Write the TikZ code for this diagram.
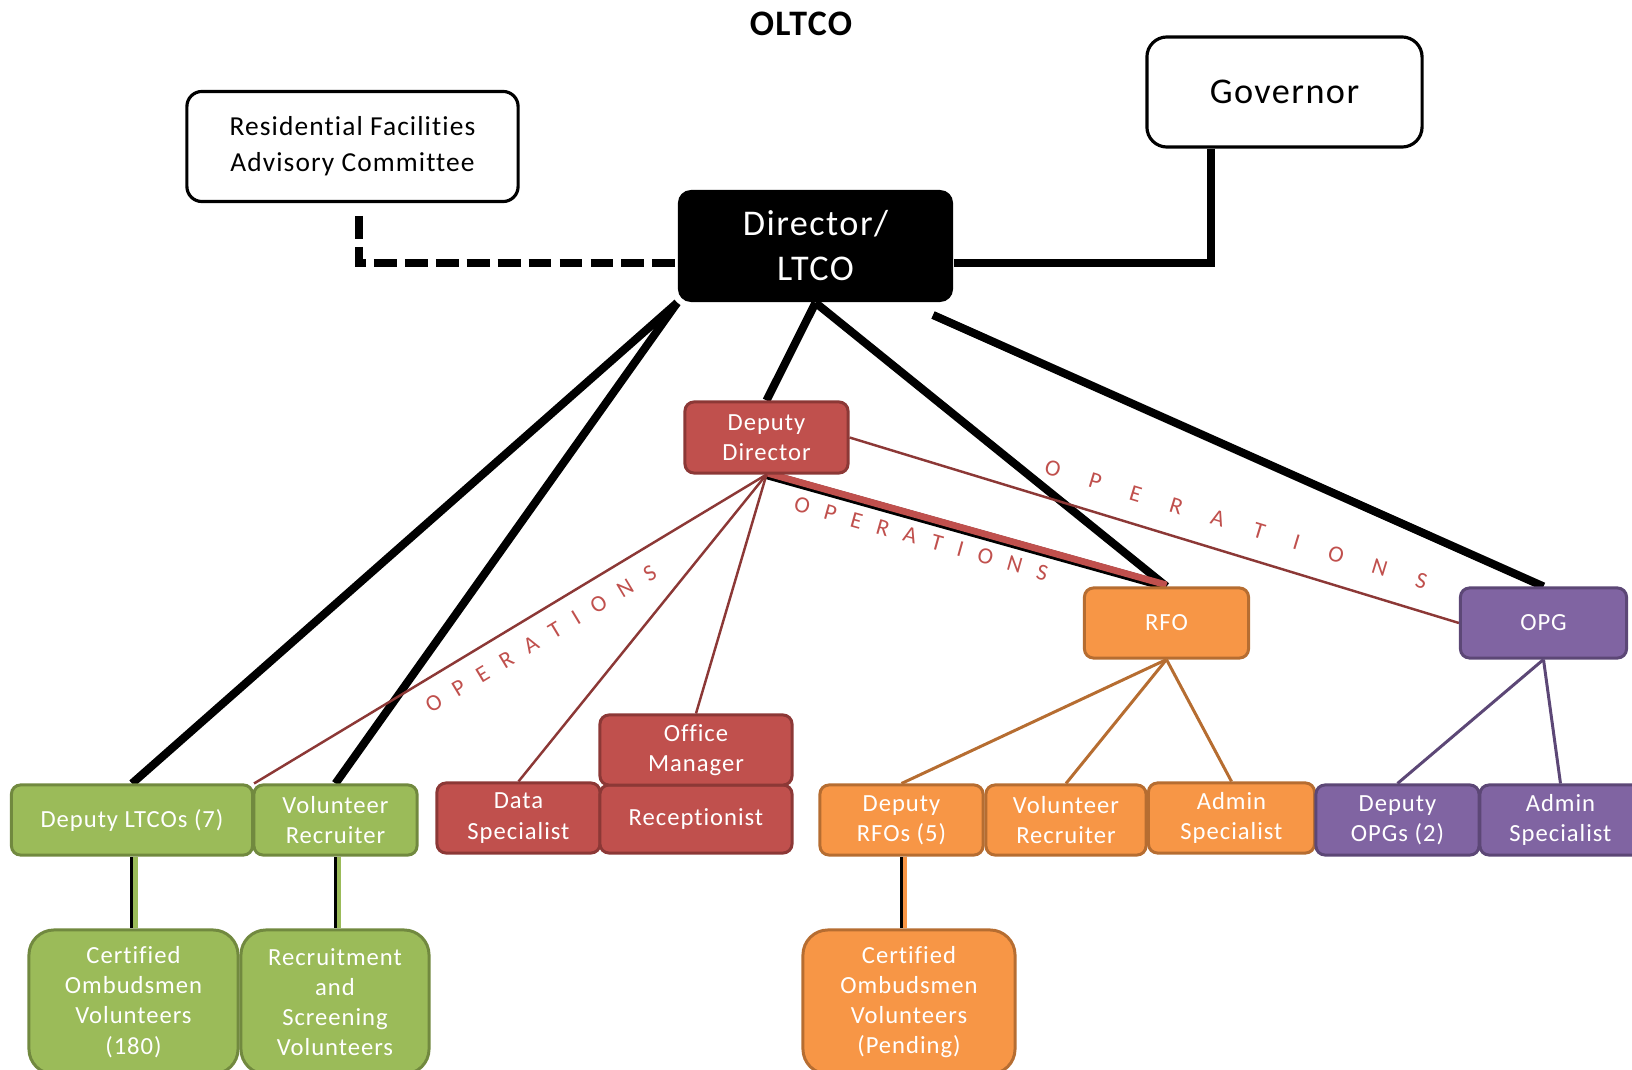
\documentclass[tikz,border=0pt]{standalone}
\usepackage{fontspec}
\setmainfont{Carlito}[LetterSpace=4, Ligatures={NoCommon}]
\usetikzlibrary{backgrounds,calc}
\definecolor{grnfill}{HTML}{9BBB59}
\definecolor{grnline}{HTML}{71893F}
\definecolor{redfill}{HTML}{C0504D}
\definecolor{redline}{HTML}{8C3836}
\definecolor{orgfill}{HTML}{F79646}
\definecolor{orgline}{HTML}{B66D31}
\definecolor{purfill}{HTML}{8064A2}
\definecolor{purline}{HTML}{5C4776}
\newcommand{\opsword}[1]{O\hspace{#1}P\hspace{#1}E\hspace{#1}R\hspace{#1}A\hspace{#1}T\hspace{#1}I\hspace{#1}O\hspace{#1}N\hspace{#1}S}
\tikzset{
  wh/.style 2 args={minimum width=#1, minimum height=#2},
  unit/.style={rectangle, rounded corners=0.09cm, line width=0.85pt, text=white, align=center, inner sep=0pt, font=\fontsize{7}{8.6}\selectfont},
  grnbox/.style={unit, draw=grnline, fill=grnfill},
  redbox/.style={unit, draw=redline, fill=redfill},
  orgbox/.style={unit, draw=orgline, fill=orgfill},
  purbox/.style={unit, draw=purline, fill=purfill},
  topbox/.style={rectangle, draw=black, fill=white, line width=0.9pt, align=center, inner sep=0pt},
  chief/.style={rectangle, fill=black, text=white, rounded corners=0.13cm, align=center, inner sep=0pt, font=\fontsize{10.3}{12.8}\selectfont},
  boss/.style={line width=2.3pt, black},
  tie/.style={line width=0.7pt, redline},
  ops/.style={text=redfill, font=\fontsize{6.6}{8}\selectfont, inner sep=0pt, sloped}
}
\begin{document}
\begin{tikzpicture}[x=0.01cm, y=-0.01cm]
\useasboundingbox (0,0) rectangle (1632,1070);
\node[font=\fontsize{10.2}{12.8}\selectfont\bfseries] (title) at (801,24) {OLTCO};
\node[topbox, wh={3.31cm}{1.1cm}, rounded corners=0.15cm, font=\fontsize{7.8}{10.2}\selectfont] (rfac) at (352.5,146.5) {Residential Facilities\\Advisory Committee};
\node[topbox, wh={2.75cm}{1.1cm}, rounded corners=0.2cm, font=\fontsize{10.3}{12.8}\selectfont] (gov) at (1284.5,92) {Governor};
\node[chief, wh={2.75cm}{1.12cm}] (dir) at (815.5,246) {Director/\\LTCO};
\node[redbox, wh={1.63cm}{0.71cm}] (dd) at (766.5,437.5) {Deputy\\Director};
\node[orgbox, wh={1.64cm}{0.7cm}] (rfo) at (1166.5,623) {RFO};
\node[purbox, wh={1.66cm}{0.7cm}] (opg) at (1543.5,623) {OPG};
\node[grnbox, wh={2.41cm}{0.7cm}] (dltco) at (132,820) {Deputy LTCOs (7)};
\node[grnbox, wh={1.63cm}{0.7cm}] (vrg) at (335.5,820) {Volunteer\\Recruiter};
\node[redbox, wh={1.63cm}{0.7cm}] (data) at (518.5,818) {Data\\Specialist};
\node[redbox, wh={1.92cm}{0.68cm}] (recp) at (696,819) {Receptionist};
\node[redbox, wh={1.92cm}{0.7cm}] (offm) at (696,750) {Office\\Manager};
\node[orgbox, wh={1.63cm}{0.7cm}] (drfo) at (901.5,820) {Deputy\\RFOs (5)};
\node[orgbox, wh={1.6cm}{0.7cm}] (vro) at (1066,820) {Volunteer\\Recruiter};
\node[orgbox, wh={1.66cm}{0.7cm}] (aso) at (1231.5,818) {Admin\\Specialist};
\node[purbox, wh={1.63cm}{0.7cm}] (dopg) at (1397.5,820) {Deputy\\OPGs (2)};
\node[purbox, wh={1.61cm}{0.7cm}] (asp) at (1560.5,820) {Admin\\Specialist};
\node[grnbox, wh={2.09cm}{1.44cm}, rounded corners=0.25cm] (cov) at (133.5,1002) {Certified\\Ombudsmen\\Volunteers\\(180)};
\node[grnbox, wh={1.88cm}{1.44cm}, rounded corners=0.25cm] (rsv) at (335,1002) {Recruitment\\and\\Screening\\Volunteers};
\node[orgbox, wh={2.12cm}{1.44cm}, rounded corners=0.25cm] (cvp) at (909,1002) {Certified\\Ombudsmen\\Volunteers\\(Pending)};
\coordinate (rfactail) at (359,216);
\coordinate (opgtail) at (933,315);
\begin{scope}[on background layer]
\draw[boss, line width=2.5pt, dash pattern=on 6.5pt off 2.3pt] (rfactail) |- ($(dir.west)+(0,17)$);
\draw[boss] ($(gov.south west)+(66,0)$) |- ($(dir.east)+(0,17)$);
\draw[boss] (dir.south west) -- (dltco.north);
\draw[boss] (dir.south west) -- (vrg.north);
\draw[boss] (dir.south) -- (dd.north);
\draw[boss] (dir.south) -- (rfo.north);
\draw[boss] (opgtail) -- (opg.north);
\draw[boss, line width=2.6pt] (dd.south) -- (rfo.north) node[ops, pos=0.4, below=2.2pt] {\opsword{4.4pt}};
\draw[line width=1.9pt, redfill, transform canvas={yshift=0.45pt}] (dd.south) -- (rfo.north);
\draw[tie] (dltco.north east) -- (dd.south) node[ops, pos=0.535, below=4.4pt] {\opsword{4.5pt}};
\draw[tie] (dd.east) -- (opg.west) node[ops, pos=0.62, above=5.9pt] {\opsword{8.7pt}};
\draw[tie] (dd.south) -- (data.north);
\draw[tie] (dd.south) -- (offm.north);
\foreach \t in {drfo,vro,aso}
{
\draw[line width=0.85pt, orgline] (rfo.south) -- (\t.north);
}
\foreach \t in {dopg,asp}
{
\draw[line width=0.85pt, purline] (opg.south) -- (\t.north);
}
\foreach \a/\b/\c in {dltco/cov/grnfill, vrg/rsv/grnfill, drfo/cvp/orgfill}
{
\draw[line width=2pt, transform canvas={xshift=0.5pt}] (\a.south) -- (\a.south |- \b.north);
\draw[line width=1.3pt, \c, transform canvas={xshift=1.05pt}] (\a.south) -- (\a.south |- \b.north);
}
\end{scope}
\end{tikzpicture}
\end{document}
